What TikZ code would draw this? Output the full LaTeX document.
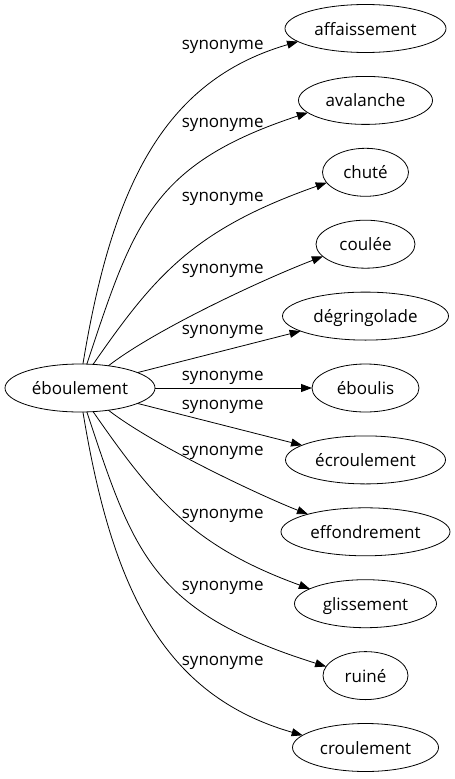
\documentclass[tikz,border=0pt]{standalone}
\usepackage{fontspec}
\setmainfont{Open Sans}
\usetikzlibrary{shapes.geometric,arrows.meta}
\tikzset{
  word/.style={draw, ellipse, line width=0.8pt, inner sep=0pt, outer sep=0pt,
    minimum height=48pt, text height=13pt, text depth=0pt,
    font=\fontsize{17}{20}\selectfont},
  rel/.style={inner sep=0pt, font=\fontsize{17}{20}\selectfont},
  link/.style={line width=0.8pt, -{Triangle[length=11pt,width=8pt]}}
}
\begin{document}
\begin{tikzpicture}[x=1pt,y=-1pt]
\useasboundingbox (0,0) rectangle (455,779);
\node[word, minimum width=150pt] (src) at (80,388) {éboulement};
\node[word, minimum width=161pt] (t0) at (365.5,28.5) {affaissement};
\node[word, minimum width=134pt] (t1) at (365.5,100.4) {avalanche};
\node[word, minimum width=86pt] (t2) at (365.5,172.3) {chuté};
\node[word, minimum width=99pt] (t3) at (365.5,244.2) {coulée};
\node[word, minimum width=166pt] (t4) at (365.5,316.1) {dégringolade};
\node[word, minimum width=107pt] (t5) at (365.5,388) {éboulis};
\node[word, minimum width=160pt] (t6) at (365.5,459.9) {écroulement};
\node[word, minimum width=169pt] (t7) at (365.5,531.8) {effondrement};
\node[word, minimum width=142pt] (t8) at (365.5,603.7) {glissement};
\node[word, minimum width=85pt] (t9) at (365.5,675.6) {ruiné};
\node[word, minimum width=146pt] (t10) at (365.5,747.5) {croulement};

\draw[link] (src.83) .. controls (111.8,188.3) and (162.6,80.8) .. (t0.191);
\draw[link] (src.74) .. controls (133.5,223.5) and (151.3,164.2) .. (t1.192.5);
\draw[link] (src.61) .. controls (154.6,275.7) and (193.4,229.6) .. (t2.195);
\draw[link] (src.38.5) .. controls (155.4,329.4) and (263.6,279) .. (t3.196.5);
\draw[link] (src.15.4) -- (t4.193);
\draw[link] (src.0) -- (t5.180);
\draw[link] (src.-15.4) -- (t6.167);
\draw[link] (src.-38.5) .. controls (155.4,446.6) and (263.6,497) .. (t7.163.5);
\draw[link] (src.-61) .. controls (154.6,500.3) and (193.4,546.4) .. (t8.165);
\draw[link] (src.-74) .. controls (133.5,552.5) and (151.3,611.8) .. (t9.167.5);
\draw[link] (src.-83) .. controls (111.8,587.7) and (162.6,695.2) .. (t10.169);

\node[rel] (l0) at (222.7,47) {synonyme};
\node[rel] (l1) at (222.7,125) {synonyme};
\node[rel] (l2) at (222.7,199) {synonyme};
\node[rel] (l3) at (222.7,270.7) {synonyme};
\node[rel] (l4) at (222.7,331.7) {synonyme};
\node[rel] (l5) at (222.7,378) {synonyme};
\node[rel] (l6) at (222.7,406.7) {synonyme};
\node[rel] (l7) at (222.7,453) {synonyme};
\node[rel] (l8) at (222.7,516) {synonyme};
\node[rel] (l9) at (222.7,588) {synonyme};
\node[rel] (l10) at (222.7,662.7) {synonyme};
\end{tikzpicture}
\end{document}
